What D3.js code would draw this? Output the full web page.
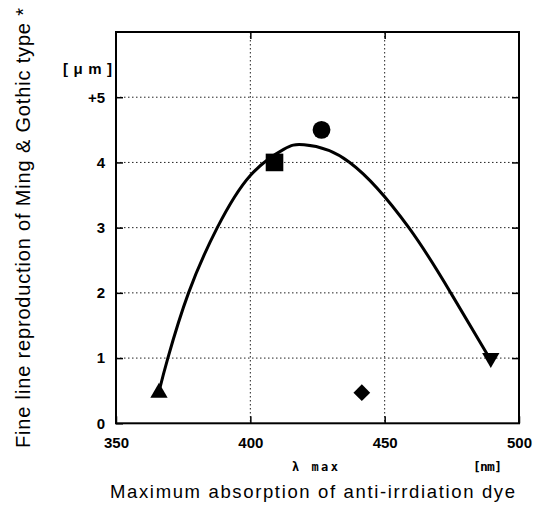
<!DOCTYPE html>
<html>
<head>
<meta charset="utf-8">
<script src="https://cdn.jsdelivr.net/npm/d3@7"></script>
<style>
  body { margin: 0; background: #fff; }
  svg { font-family: "Liberation Sans", Arial, sans-serif; }
</style>
</head>
<body>
<div class="chart"></div>
<script>
// marker data
const dyeLambda = [366, 409, 426.5, 441.5, 489.5];
const fineLine = [0.47, 4.0, 4.5, 0.47, 1.0];
const markerShape = ["triangle", "square", "circle", "diamond", "down"];

// fitted curve
const curveLambda = [366.4, 369.3, 377, 387.7, 400, 412.4, 420, 437, 459, 474.6, 488.3];
const curveValue = [0.55, 1.0, 2.0, 3.0, 3.8, 4.2, 4.27, 4.0, 3.0, 2.0, 1.05];

const xTicks = [350, 400, 450, 500];
const yTicks = [0, 1, 2, 3, 4, 5];
const xGrid = [400, 450];
const yGrid = [1, 2, 3, 4, 5];

const width = 543, height = 507;
const plotLeft = 116, plotRight = 519, plotTop = 32, plotBottom = 423.3;

const svg = d3.select(".chart").append("svg")
  .attr("width", width)
  .attr("height", height);

const x = d3.scaleLinear().domain([350, 500]).range([plotLeft, plotRight]);
const y = d3.scaleLinear().domain([0, 6]).range([plotBottom, plotTop]);

// dotted grid
svg.selectAll(".gx").data(xGrid).enter().append("line")
  .attr("x1", d => x(d)).attr("x2", d => x(d))
  .attr("y1", plotTop).attr("y2", plotBottom)
  .attr("stroke", "#222").attr("stroke-width", 1)
  .attr("stroke-dasharray", "1.5,2.5");
svg.selectAll(".gy").data(yGrid).enter().append("line")
  .attr("x1", plotLeft).attr("x2", plotRight)
  .attr("y1", d => y(d)).attr("y2", d => y(d))
  .attr("stroke", "#222").attr("stroke-width", 1)
  .attr("stroke-dasharray", "1.5,2.5");

// axes with inward ticks
const axisFont = g => g.selectAll("text")
  .attr("font-size", 15).attr("font-weight", "bold").attr("fill", "#000");

const gLeft = svg.append("g").attr("transform", `translate(${plotLeft},0)`)
  .call(d3.axisLeft(y).tickValues(yTicks).tickSize(-7).tickPadding(11)
    .tickFormat(d => d === 5 ? "+5" : d));
gLeft.call(axisFont);

const gBottom = svg.append("g").attr("transform", `translate(0,${plotBottom})`)
  .call(d3.axisBottom(x).tickValues(xTicks).tickSize(-7).tickPadding(14));
gBottom.call(axisFont);

svg.append("g").attr("transform", `translate(${plotRight},0)`)
  .call(d3.axisRight(y).tickValues(yGrid).tickSize(-7).tickFormat(""));
svg.append("g").attr("transform", `translate(0,${plotTop})`)
  .call(d3.axisTop(x).tickValues(xGrid).tickSize(-7).tickFormat(""));

svg.selectAll(".domain").remove();
svg.selectAll(".tick line").attr("stroke", "#000").attr("stroke-width", 1.5);

// frame
svg.append("rect")
  .attr("x", plotLeft).attr("y", plotTop)
  .attr("width", plotRight - plotLeft).attr("height", plotBottom - plotTop)
  .attr("fill", "none").attr("stroke", "#000").attr("stroke-width", 2);

// curve
const line = d3.line()
  .x(d => x(d[0]))
  .y(d => y(d[1]))
  .curve(d3.curveNatural);
svg.append("path")
  .datum(d3.zip(curveLambda, curveValue))
  .attr("d", line)
  .attr("fill", "none")
  .attr("stroke", "#000")
  .attr("stroke-width", 3);

// markers
const symbolType = {
  triangle: d3.symbolTriangle,
  square: d3.symbolSquare,
  circle: d3.symbolCircle,
  diamond: d3.symbolSquare,
  down: d3.symbolTriangle
};
const symbolSize = { triangle: 130, square: 310, circle: 250, diamond: 140, down: 130 };
const symbolRot = { triangle: 0, square: 0, circle: 0, diamond: 45, down: 180 };

svg.selectAll(".marker").data(d3.range(dyeLambda.length)).enter().append("path")
  .attr("d", i => d3.symbol().type(symbolType[markerShape[i]]).size(symbolSize[markerShape[i]])())
  .attr("transform", i =>
    `translate(${x(dyeLambda[i])},${y(fineLine[i])}) rotate(${symbolRot[markerShape[i]]})`)
  .attr("fill", "#000");

// unit labels
svg.append("text")
  .attr("x", 63).attr("y", 74)
  .attr("textLength", 49).attr("lengthAdjust", "spacing")
  .attr("font-size", 15).attr("font-weight", "bold")
  .text("[\u03bcm]");
svg.append("text")
  .attr("x", 292).attr("y", 471)
  .attr("textLength", 46)
  .attr("font-family", "'DejaVu Sans Mono', monospace")
  .attr("font-size", 12).attr("font-weight", "bold")
  .text("\u03bb max");
svg.append("text")
  .attr("x", 473).attr("y", 471)
  .attr("textLength", 29)
  .attr("font-family", "'DejaVu Sans Mono', monospace")
  .attr("font-size", 13).attr("font-weight", "bold")
  .text("[nm]");

// axis titles
svg.append("text")
  .attr("x", 110).attr("y", 498)
  .attr("textLength", 405)
  .attr("font-size", 18.5)
  .text("Maximum absorption of anti-irrdiation dye");
svg.append("text")
  .attr("transform", "translate(30,448) rotate(-90)")
  .attr("textLength", 440)
  .attr("font-size", 20)
  .text("Fine line reproduction of Ming & Gothic type *");
</script>
</body>
</html>
